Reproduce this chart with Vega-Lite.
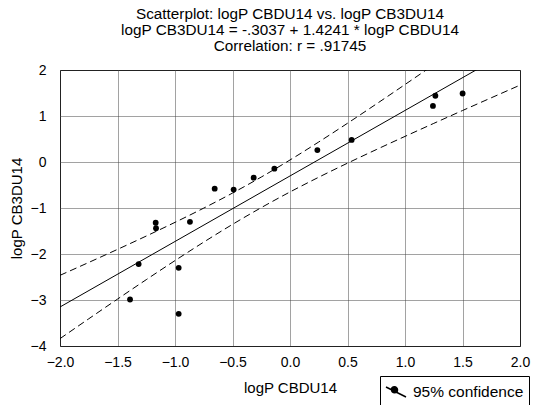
{
  "$schema": "https://vega.github.io/schema/vega-lite/v6.json",
  "autosize": {"type": "none"},
  "width": 460,
  "height": 276,
  "padding": {"left": 60, "top": 70, "right": 15, "bottom": 59},
  "background": "white",
  "title": {
    "text": ["Scatterplot: logP CBDU14 vs. logP CB3DU14", "logP CB3DU14 = -.3037 + 1.4241 * logP CBDU14", "Correlation: r = .91745"],
    "font": "Liberation Sans",
    "fontSize": 15.3,
    "fontWeight": "normal",
    "color": "black",
    "lineHeight": 16,
    "anchor": "middle",
    "offset": 9
  },
  "config": {
    "view": {"stroke": "black", "strokeWidth": 1},
    "axis": {
      "labelFont": "Liberation Sans",
      "labelFontSize": 14,
      "labelColor": "black",
      "titleFont": "Liberation Sans",
      "titleFontSize": 15,
      "titleFontWeight": "normal",
      "titleColor": "black",
      "ticks": false,
      "domain": false,
      "grid": true,
      "gridColor": "#444444",
      "gridDash": [1, 1],
      "gridWidth": 1,
      "gridOpacity": 1
    }
  },
  "datasets": {
    "points": [
      {"cbdu": -1.391, "cb3du": -2.99, "series": "95% confidence"},
      {"cbdu": -1.316, "cb3du": -2.22, "series": "95% confidence"},
      {"cbdu": -1.168, "cb3du": -1.32, "series": "95% confidence"},
      {"cbdu": -1.165, "cb3du": -1.44, "series": "95% confidence"},
      {"cbdu": -0.968, "cb3du": -2.30, "series": "95% confidence"},
      {"cbdu": -0.968, "cb3du": -3.30, "series": "95% confidence"},
      {"cbdu": -0.870, "cb3du": -1.30, "series": "95% confidence"},
      {"cbdu": -0.655, "cb3du": -0.58, "series": "95% confidence"},
      {"cbdu": -0.490, "cb3du": -0.60, "series": "95% confidence"},
      {"cbdu": -0.316, "cb3du": -0.34, "series": "95% confidence"},
      {"cbdu": -0.136, "cb3du": -0.145, "series": "95% confidence"},
      {"cbdu": 0.238, "cb3du": 0.26, "series": "95% confidence"},
      {"cbdu": 0.536, "cb3du": 0.48, "series": "95% confidence"},
      {"cbdu": 1.243, "cb3du": 1.22, "series": "95% confidence"},
      {"cbdu": 1.264, "cb3du": 1.44, "series": "95% confidence"},
      {"cbdu": 1.501, "cb3du": 1.49, "series": "95% confidence"}
    ],
    "fit": [
      {"cbdu": -2.0, "cb3du": -3.1519},
      {"cbdu": 2.0, "cb3du": 2.5445}
    ],
    "bands": [
      {"cbdu": -2.0, "cb3du": -2.4638, "band": "upper"},
      {"cbdu": -1.75, "cb3du": -2.1835, "band": "upper"},
      {"cbdu": -1.5, "cb3du": -1.8995, "band": "upper"},
      {"cbdu": -1.25, "cb3du": -1.6098, "band": "upper"},
      {"cbdu": -1.0, "cb3du": -1.3121, "band": "upper"},
      {"cbdu": -0.75, "cb3du": -1.0023, "band": "upper"},
      {"cbdu": -0.5, "cb3du": -0.6756, "band": "upper"},
      {"cbdu": -0.25, "cb3du": -0.3272, "band": "upper"},
      {"cbdu": 0.0, "cb3du": 0.0440, "band": "upper"},
      {"cbdu": 0.25, "cb3du": 0.4354, "band": "upper"},
      {"cbdu": 0.5, "cb3du": 0.8422, "band": "upper"},
      {"cbdu": 0.75, "cb3du": 1.2596, "band": "upper"},
      {"cbdu": 1.0, "cb3du": 1.6841, "band": "upper"},
      {"cbdu": 1.25, "cb3du": 2.1134, "band": "upper"},
      {"cbdu": 1.5, "cb3du": 2.5463, "band": "upper"},
      {"cbdu": -2.0, "cb3du": -3.8400, "band": "lower"},
      {"cbdu": -1.75, "cb3du": -3.4083, "band": "lower"},
      {"cbdu": -1.5, "cb3du": -2.9803, "band": "lower"},
      {"cbdu": -1.25, "cb3du": -2.5578, "band": "lower"},
      {"cbdu": -1.0, "cb3du": -2.1435, "band": "lower"},
      {"cbdu": -0.75, "cb3du": -1.7413, "band": "lower"},
      {"cbdu": -0.5, "cb3du": -1.3560, "band": "lower"},
      {"cbdu": -0.25, "cb3du": -0.9922, "band": "lower"},
      {"cbdu": 0.0, "cb3du": -0.6514, "band": "lower"},
      {"cbdu": 0.25, "cb3du": -0.3308, "band": "lower"},
      {"cbdu": 0.5, "cb3du": -0.0254, "band": "lower"},
      {"cbdu": 0.75, "cb3du": 0.2692, "band": "lower"},
      {"cbdu": 1.0, "cb3du": 0.5567, "band": "lower"},
      {"cbdu": 1.25, "cb3du": 0.8394, "band": "lower"},
      {"cbdu": 1.5, "cb3du": 1.1187, "band": "lower"},
      {"cbdu": 1.75, "cb3du": 1.3956, "band": "lower"},
      {"cbdu": 2.0, "cb3du": 1.6708, "band": "lower"}
    ]
  },
  "encoding": {
    "x": {
      "field": "cbdu", "type": "quantitative",
      "scale": {"domain": [-2, 2], "nice": false, "zero": false},
      "axis": {"title": "logP CBDU14", "values": [-2, -1.5, -1, -0.5, 0, 0.5, 1, 1.5, 2], "format": ".1f", "labelPadding": 9, "titlePadding": 11, "labelFlush": false}
    },
    "y": {
      "field": "cb3du", "type": "quantitative",
      "scale": {"domain": [-4, 2], "nice": false, "zero": false},
      "axis": {"title": "logP CB3DU14", "values": [-4, -3, -2, -1, 0, 1, 2], "format": "d", "labelPadding": 14, "titlePadding": 6, "labelFlush": false}
    }
  },
  "layer": [
    {
      "data": {"name": "bands"},
      "mark": {"type": "line", "clip": true, "color": "black", "strokeWidth": 1, "strokeDash": [7, 4], "interpolate": "monotone"},
      "encoding": {"detail": {"field": "band"}}
    },
    {
      "data": {"name": "fit"},
      "mark": {"type": "line", "clip": true, "color": "black", "strokeWidth": 1},
      "encoding": {}
    },
    {
      "data": {"name": "points"},
      "mark": {"type": "circle", "size": 34, "opacity": 1},
      "encoding": {
        "color": {
          "field": "series", "type": "nominal",
          "scale": {"range": ["black"]},
          "legend": {
            "title": null,
            "orient": "none",
            "legendX": 320,
            "legendY": 306,
            "strokeColor": "black",
            "fillColor": "white",
            "padding": 5,
            "labelFont": "Liberation Sans",
            "labelFontSize": 15.5,
            "labelColor": "black",
            "symbolType": "M-1,-0.5L1,0.5M-0.45,-0.22a0.3,0.3 0 1,0 0.6,0a0.3,0.3 0 1,0 -0.6,0",
            "symbolSize": 400,
            "symbolFillColor": "black",
            "symbolStrokeColor": "black",
            "symbolStrokeWidth": 1.5,
            "labelOffset": 6
          }
        }
      }
    }
  ]
}
